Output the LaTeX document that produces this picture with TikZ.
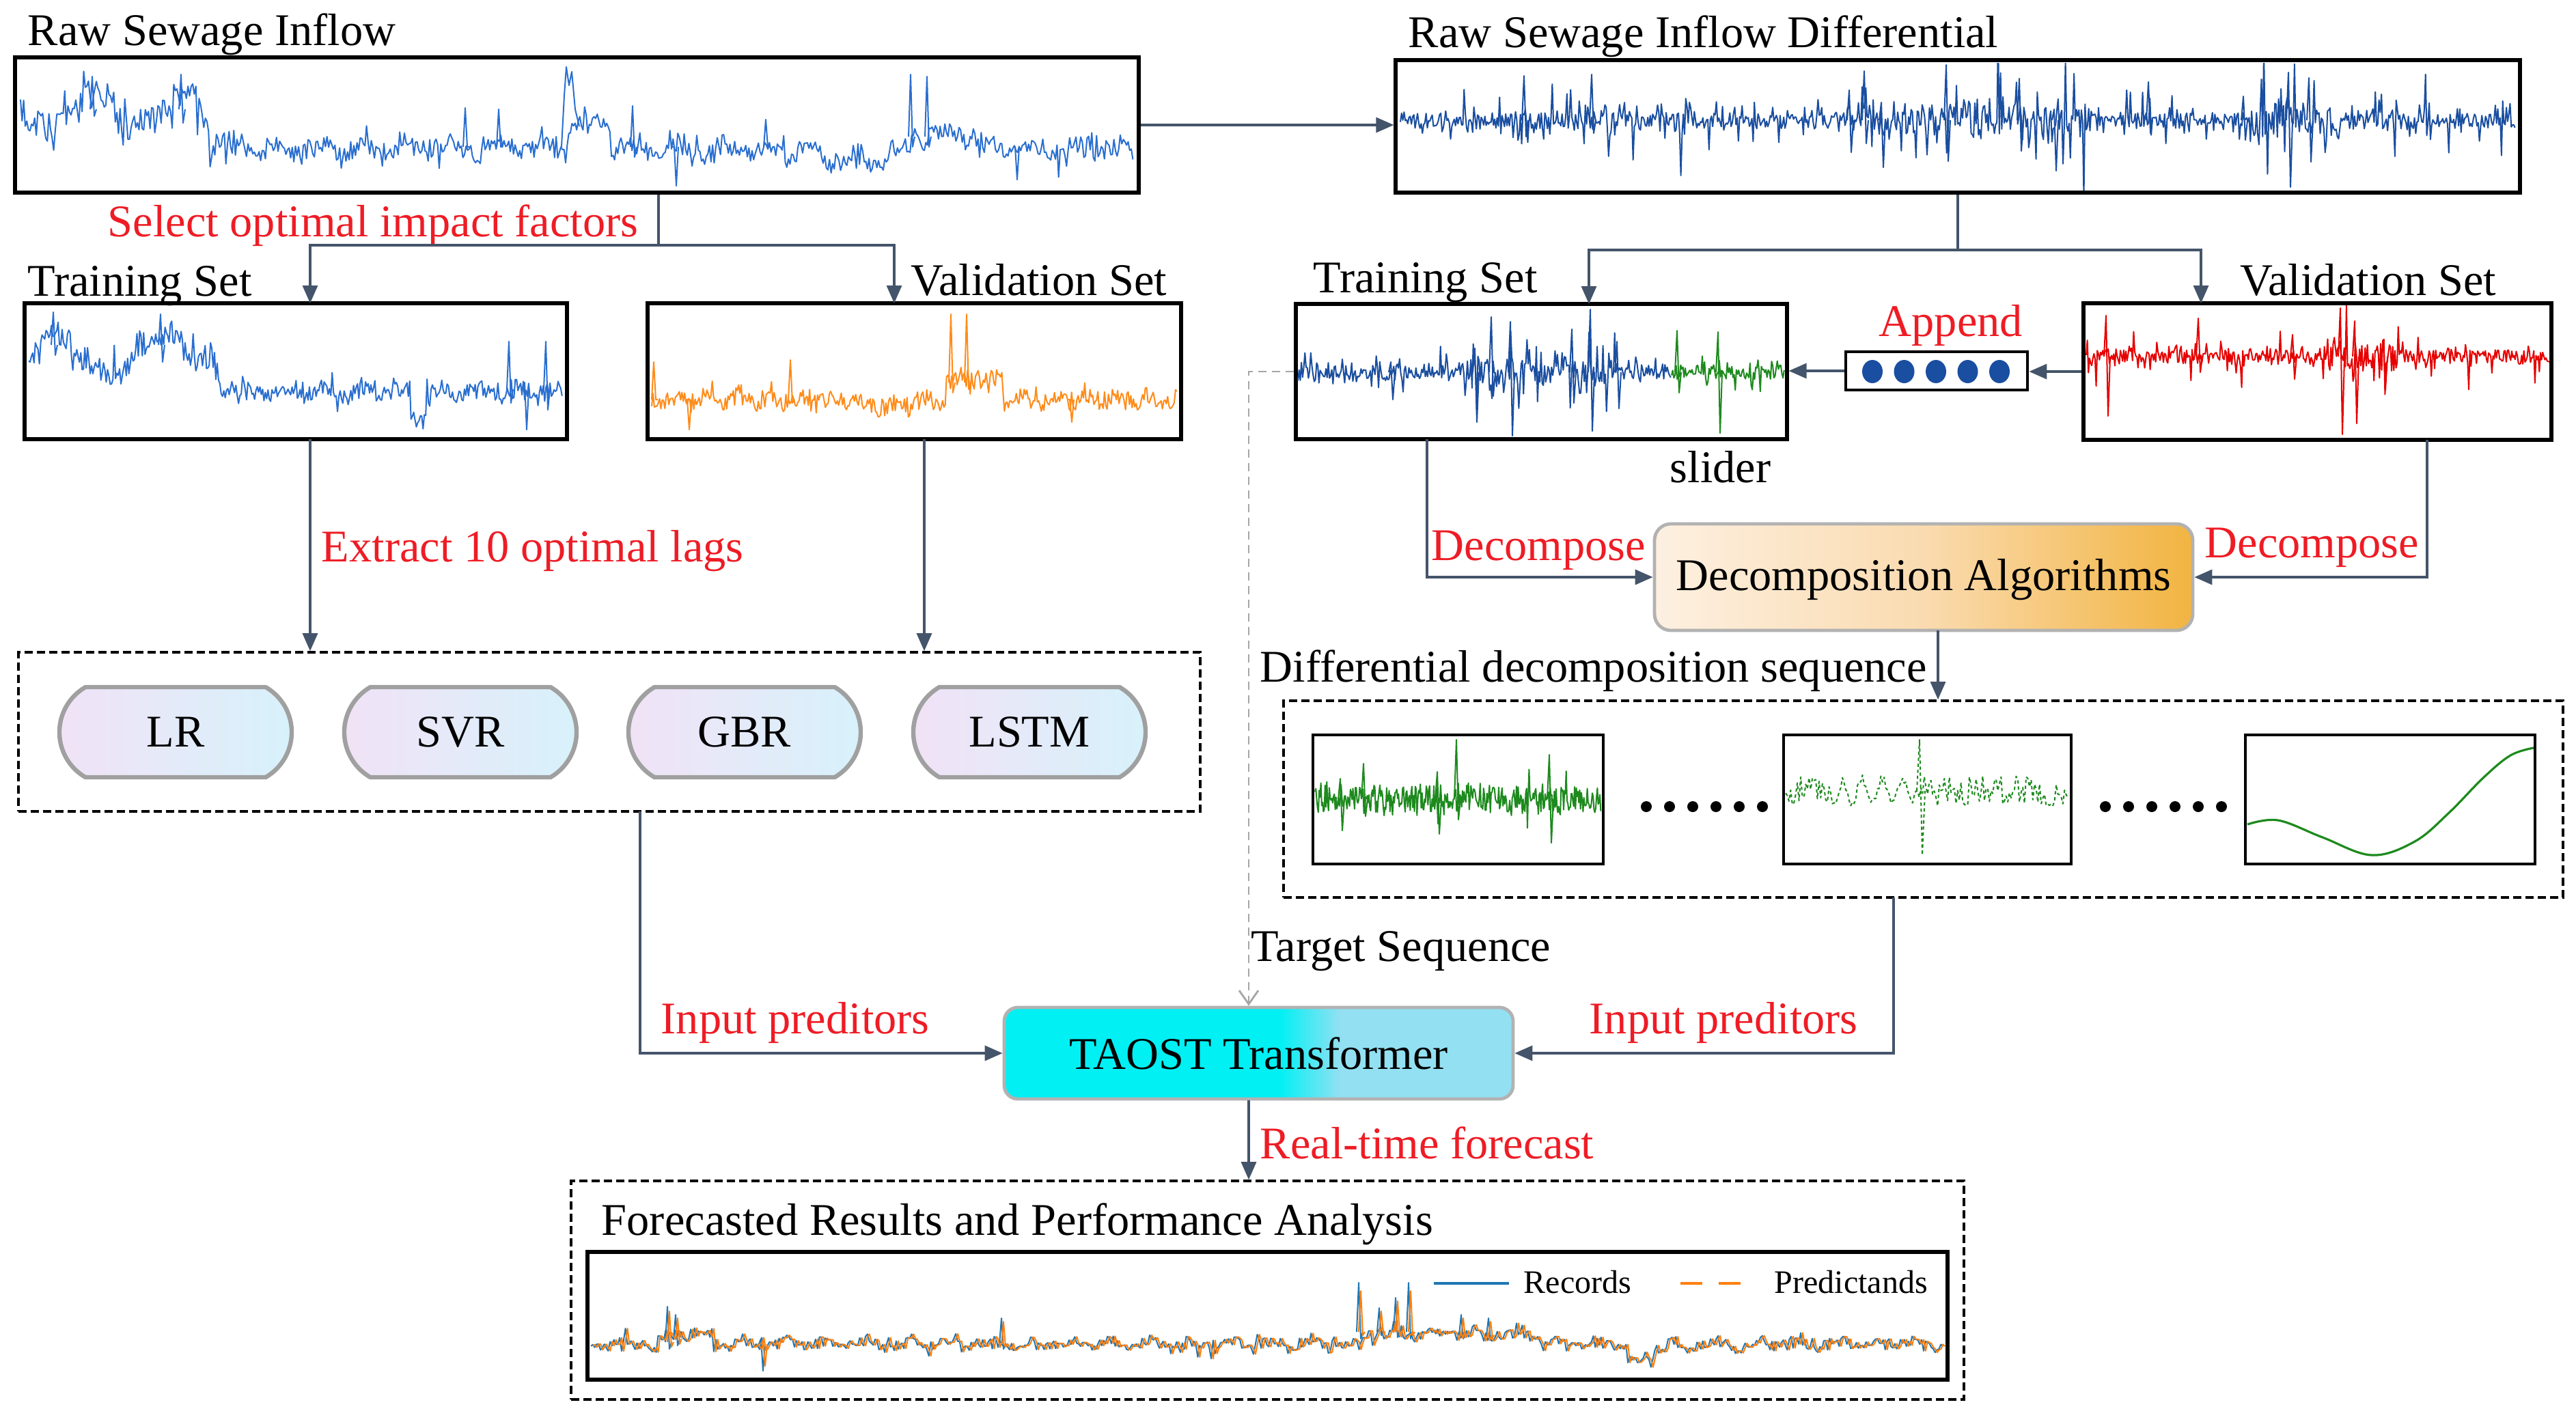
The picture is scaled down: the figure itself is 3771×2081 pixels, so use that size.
\documentclass[tikz,border=0pt]{standalone}
\usepackage{fontspec}
\setmainfont{Liberation Serif}
\usetikzlibrary{arrows.meta,shapes.misc,fit,calc}
\definecolor{connc}{HTML}{44546A}
\definecolor{redc}{HTML}{EE1C25}
\definecolor{infl}{HTML}{2A6FD0}
\definecolor{diffc}{HTML}{1B4FA0}
\definecolor{orc}{HTML}{FF8C1A}
\definecolor{sigred}{HTML}{E60000}
\definecolor{sgreen}{HTML}{1E8A1E}
\definecolor{fblue}{HTML}{1F77B4}
\definecolor{forange}{HTML}{FF7F0E}
\definecolor{pillL}{HTML}{F2E2F6}
\definecolor{pillR}{HTML}{D6F2FB}
\definecolor{pillb}{HTML}{A0A0A0}
\definecolor{taA}{HTML}{00F0F4}
\definecolor{taB}{HTML}{92E0F2}
\definecolor{daA}{HTML}{FDF0E1}
\definecolor{daB}{HTML}{FADBB0}
\definecolor{daC}{HTML}{F2B441}
\definecolor{dotb}{HTML}{1A4EA0}
\pgfdeclarehorizontalshading{taostsh}{100bp}{color(0bp)=(taA); color(25bp)=(taA); color(52bp)=(taA); color(58bp)=(taB); color(75bp)=(taB); color(100bp)=(taB)}
\pgfdeclarehorizontalshading{dalgsh}{100bp}{color(0bp)=(daA); color(25bp)=(daA); color(50bp)=(daB); color(75bp)=(daC); color(100bp)=(daC)}
\newcommand\fcexpr{1968 - 15*(\q>0.055)*(\q<0.09) - 15*(\q>0.57)*(\q<0.70) + 25*(\q>0.765)*(\q<0.785) + 5*sin(12000*\q) + 8*rand + 20*rand*rand*rand}
\newcommand\spk[5]{\draw[#1, line width=0.5pt, line join=round] (#2-4,#5) -- (#2-1,#3) -- (#2+2,#4) -- (#2+5,#5);}
\begin{document}
\begin{tikzpicture}[x=0.25pt, y=-0.25pt,
  font=\fontsize{16.6}{20}\selectfont,
  pbox/.style={draw=black, line width=1.3pt, inner sep=0pt, fill=white},
  grp/.style={draw=black, line width=0.9pt, dash pattern=on 3pt off 1.5pt, inner sep=0pt},
  conn/.style={draw=connc, line width=0.8pt},
  arr/.style={conn, -{Triangle[length=6.5pt,width=5.5pt]}},
  gdash/.style={draw=gray!70, line width=0.7pt, dash pattern=on 3pt off 2pt, -{Straight Barb[length=5pt,width=7pt]}},
  lbl/.style={anchor=base west, inner sep=0pt},
  rlbl/.style={lbl, text=redc},
  sig/.style={line width=0.5pt, line join=round},
  pill/.style={rounded rectangle, rounded rectangle arc length=120, draw=pillb, line width=1.6pt, left color=pillL, right color=pillR, minimum width=85pt, minimum height=33pt, inner sep=0pt},
]
\fill[white] (0,0) rectangle (3771,2081);
\useasboundingbox (0,0) rectangle (3771,2081);

% ---------- group boxes ----------
\node[grp, fit={(27,955) (1757,1188)}] (m) {};
\node[grp, fit={(1879,1026) (3752,1314)}] (D) {};
\node[grp, fit={(836,1729) (2875,2049)}] (F) {};

% ---------- plot boxes ----------
\node[pbox, fit={(22,84) (1667,282)}] (b1) {};
\node[pbox, fit={(2043,88) (3689,282)}] (b2) {};
\node[pbox, fit={(36,444) (830,643)}] (tL) {};
\node[pbox, fit={(948,444) (1729,643)}] (vL) {};
\node[pbox, fit={(1897,445) (2616,643)}] (tR) {};
\node[pbox, fit={(3050,444) (3735,644)}] (vR) {};
\node[pbox, line width=1.2pt, fit={(2702,515) (2968,571)}] (app) {};
\node[pbox, line width=1.1pt, fit={(1922,1076) (2347,1265)}] (d1) {};
\node[pbox, line width=1.1pt, fit={(2611,1076) (3032,1265)}] (d2) {};
\node[pbox, line width=1.1pt, fit={(3287,1076) (3711,1265)}] (d3) {};
\node[pbox, fit={(860,1833) (2851,2020)}] (P) {};

% ---------- process boxes ----------
\node[draw=gray!60, line width=1.2pt, rounded corners=6pt, shading=dalgsh, inner sep=0pt, fit={(2422,767) (3210,923)}] (DA) {};
\node (DAt) at ([yshift=-1pt]DA.center) {Decomposition Algorithms};
\node[draw=gray!60, line width=1.2pt, rounded corners=5pt, shading=taostsh, inner sep=0pt, fit={(1470,1475) (2215,1609)}] (T) {};
\node (Tt) at (T.center) {TAOST Transformer};
\node[pill] (pLR) at (257,1072) {LR};
\node[pill] (pSVR) at (674,1072) {SVR};
\node[pill] (pGBR) at (1090,1072) {GBR};
\node[pill] (pLSTM) at (1507,1072) {LSTM};

% ---------- signals ----------
% raw inflow
\begin{scope}
\clip (25,87) rectangle (1664,279);
\pgfmathsetseed{11}
\draw[infl, sig] plot[variable=\q, domain=0:1, samples=700] ({30+1630*\q}, {165 + 53*(\q>0.17) - (\q<0.17)*25*sin(4444*\q-200) - 35*(\q>0.49)*(\q<0.53) + 15*(\q>0.72)*(\q<0.78) - 20*(\q>0.80)*(\q<0.86) + 7*sin(9000*\q) + (14*rand + 50*rand*rand*rand*rand)*(1+0.6*(\q<0.2))});
\foreach \sx/\su/\sd/\sb in {136/112/170/160, 266/109/180/160, 682/158/215/215, 731/160/215/215, 927/155/230/215, 988/215/272/215, 1122/175/215/215, 1334/109/215/200, 1358/112/215/200, 1487/215/263/215}
  {\spk{infl}{\sx}{\su}{\sd}{\sb}}
\draw[infl, sig] (822,215) -- (826,140) -- (829,98) -- (833,125) -- (837,105) -- (842,160) -- (848,185);
\end{scope}
% differential
\begin{scope}
\clip (2047,92) rectangle (3685,278);
\pgfmathsetseed{23}
\draw[diffc, sig] plot[variable=\q, domain=0:1, samples=900] ({2050+1632*\q}, {176 + (11*rand + 100*rand*rand*rand*rand)*(1 + 1.0*(\q>0.40)*(\q<0.62) + 1.0*(\q>0.76)*(\q<0.84) + 0.4*(\q>0.1)*(\q<0.22))});
\foreach \sx/\su/\sd/\sb in {2232/111/200/176, 2331/109/195/176, 2708/132/223/176, 2730/104/210/176, 2755/150/245/176, 2850/95/236/176, 2957/115/221/176, 3008/160/250/176, 3146/120/195/176, 3285/141/205/176, 3351/106/274/176, 3381/114/237/176}
  {\spk{diffc}{\sx}{\su}{\sd}{\sb}}
\end{scope}
% training left
\begin{scope}
\clip (39,447) rectangle (827,640);
\pgfmathsetseed{37}
\draw[infl, sig] plot[variable=\q, domain=0:1, samples=400] ({42+782*\q}, {518 + 55*(\q>0.36) - (\q<0.36)*28*sin(1800*\q) + 35*(\q>0.715)*(\q<0.745) + 6*sin(5000*\q) + (13*rand + 45*rand*rand*rand*rand)*(1+0.5*(\q<0.36))});
\foreach \sx/\su/\sd/\sb in {79/457/520/505, 236/460/530/505, 746/500/590/570, 769/560/629/570, 800/500/600/570}
  {\spk{infl}{\sx}{\su}{\sd}{\sb}}
\end{scope}
% validation left
\begin{scope}
\clip (951,447) rectangle (1726,640);
\pgfmathsetseed{41}
\draw[orc, sig] plot[variable=\q, domain=0:1, samples=400] ({954+770*\q}, {585 - 30*(\q>0.56)*(\q<0.67) + 10*(\q>0.4)*(\q<0.5) + 5*sin(6000*\q) + 13*rand + 40*rand*rand*rand*rand});
\foreach \sx/\su/\sd/\sb in {958/530/585/585, 1007/585/629/585, 1158/527/590/585, 1393/460/575/560, 1416/460/570/560, 1567/585/618/585}
  {\spk{orc}{\sx}{\su}{\sd}{\sb}}
\end{scope}
% training right
\begin{scope}
\clip (1899,448) rectangle (2614,641);
\pgfmathsetseed{53}
\draw[diffc, sig] plot[variable=\q, domain=0:1, samples=320] ({1900+547*\q}, {545 + (10*rand + 80*rand*rand*rand*rand)*(1 + 1.0*(\q>0.45)*(\q<0.85))});
\foreach \sx/\su/\sd/\sb in {2037/530/585/545, 2160/510/618/545, 2184/464/580/545, 2212/471/638/545, 2302/482/590/545, 2329/453/631/545, 2368/500/598/545}
  {\spk{diffc}{\sx}{\su}{\sd}{\sb}}
\draw[sgreen, sig] plot[variable=\q, domain=0:1, samples=100] ({2447+165*\q}, {545 + 10*rand + 50*rand*rand*rand*rand});
\foreach \sx/\su/\sd/\sb in {2456/484/575/545, 2516/486/634/545}
  {\spk{sgreen}{\sx}{\su}{\sd}{\sb}}
\end{scope}
% validation right
\begin{scope}
\clip (3053,447) rectangle (3733,641);
\pgfmathsetseed{67}
\draw[sigred, sig] plot[variable=\q, domain=0:1, samples=420] ({3054+678*\q}, {522 + (10*rand + 70*rand*rand*rand*rand)*(1 + 1.0*(\q>0.5)*(\q<0.68))});
\foreach \sx/\su/\sd/\sb in {3084/462/609/522, 3219/466/545/522, 3427/451/636/522, 3448/470/620/522, 3490/500/571/522, 3357/490/555/522}
  {\spk{sigred}{\sx}{\su}{\sd}{\sb}}
\end{scope}
% decomposition 1
\begin{scope}
\clip (1924,1078) rectangle (2345,1263);
\pgfmathsetseed{71}
\draw[sgreen, sig] plot[variable=\q, domain=0:1, samples=340] ({1925+419*\q}, {1170 + 20*rand + 50*rand*rand*rand*rand});
\foreach \sx/\su/\sd/\sb in {1963/1140/1216/1170, 1997/1118/1195/1170, 2105/1130/1221/1170, 2133/1083/1200/1170, 2269/1105/1234/1170}
  {\spk{sgreen}{\sx}{\su}{\sd}{\sb}}
\end{scope}
% decomposition 2
\begin{scope}
\clip (2612,1078) rectangle (3030,1263);
\pgfmathsetseed{79}
\draw[sgreen, sig, dash pattern=on 1.2pt off 1pt] plot[variable=\q, domain=0:1, samples=170] ({2614+414*\q}, {1158 + 22*rand*(1-0.7*(\q>0.2)*(\q<0.45)) + 18*sin(5000*\q)*(\q>0.2)*(\q<0.45)});
\draw[sgreen, sig, dash pattern=on 1.2pt off 1pt] (2806,1158) -- (2810,1083) -- (2814,1252) -- (2818,1158);
\end{scope}
% decomposition 3
\draw[sgreen, line width=0.8pt] plot[smooth, tension=0.6] coordinates {(3290,1207) (3335,1201) (3400,1226) (3472,1252) (3535,1232) (3585,1190) (3635,1139) (3675,1106) (3709,1095)};
% forecast
\begin{scope}
\clip (862,1835) rectangle (2849,2018);
\pgfmathsetseed{97}
\draw[fblue, sig] plot[variable=\q, domain=0:1, samples=700] ({865+1981*\q}, {\fcexpr});
\foreach \sx/\su/\sd/\sb in {978/1913/1975/1965, 990/1925/1970/1960, 1115/1960/2007/1968, 1467/1930/1975/1968, 1990/1878/1960/1950, 2020/1915/1955/1950, 2044/1900/1958/1950, 2063/1878/1960/1950, 2140/1925/1960/1955, 2180/1930/1960/1955}
  {\spk{fblue}{\sx}{\su}{\sd}{\sb}}
\pgfmathsetseed{97}
\draw[forange, sig] plot[variable=\q, domain=0:1, samples=700] ({868+1981*\q}, {\fcexpr});
\foreach \sx/\su/\sd/\sb in {981/1920/1972/1965, 993/1930/1968/1960, 1118/1962/2000/1968, 1470/1935/1972/1968, 1993/1890/1955/1950, 2023/1920/1952/1950, 2047/1905/1955/1950, 2066/1890/1955/1950, 2143/1930/1958/1955, 2183/1935/1958/1955}
  {\spk{forange}{\sx}{\su}{\sd}{\sb}}
\end{scope}
% legend
\draw[fblue, line width=1pt] (2099,1879) -- (2209,1879);
\node[lbl, font=\fontsize{12}{14}\selectfont] (tRec) at (2230,1893) {Records};
\draw[forange, line width=1pt, dash pattern=on 8pt off 6pt] (2460,1879) -- (2570,1879);
\node[lbl, font=\fontsize{12}{14}\selectfont] (tPred) at (2597,1893) {Predictands};

% append dots
\foreach \k in {0,...,4} \fill[dotb] (2741+46.5*\k,544) ellipse [x radius=3.75pt, y radius=4.25pt];
% decomposition dots
\foreach \k in {0,...,5} {
  \fill[black] (2410+34*\k,1181) circle [radius=2pt];
  \fill[black] (3082+34*\k,1181) circle [radius=2pt];
}

% ---------- labels ----------
\node[lbl] (tRaw) at (40,66) {Raw Sewage Inflow};
\node[lbl] (tDiff) at (2061,69) {Raw Sewage Inflow Differential};
\node[rlbl] (tSel) at (157,346) {Select optimal impact factors};
\node[lbl] (tTL) at (40,433) {Training Set};
\node[lbl] (tVL) at (1333,432) {Validation Set};
\node[lbl] (tTR) at (1922,428) {Training Set};
\node[lbl] (tVR) at (3279,432) {Validation Set};
\node[rlbl] (tApp) at (2750,492) {Append};
\node[lbl] (tSl) at (2444,706) {slider};
\node[rlbl] (tExt) at (470,822) {Extract 10 optimal lags};
\node[rlbl] (tDecL) at (2095,820) {Decompose};
\node[rlbl] (tDecR) at (3227,816) {Decompose};
\node[lbl] (tDDS) at (1844,998) {Differential decomposition sequence};
\node[lbl] (tTarget) at (1831,1407) {Target Sequence};
\node[rlbl] (tInL) at (967,1513) {Input preditors};
\node[rlbl] (tInR) at (2326,1513) {Input preditors};
\node[rlbl] (tRT) at (1844,1696) {Real-time forecast};
\node[lbl] (tFR) at (880,1808) {Forecasted Results and Performance Analysis};

% ---------- connectors ----------
\draw[arr] (b1.east) -- (b1.east -| b2.west);
\coordinate (j1) at (964,359);
\coordinate (aTL) at (454,444);
\coordinate (aVL) at (1309,444);
\draw[conn] (b1.south -| j1) -- (j1);
\draw[arr] (j1) -| (aTL);
\draw[arr] (j1) -| (aVL);
\coordinate (xTL) at (454,643);
\coordinate (xVL) at (1353,643);
\draw[arr] (xTL) -- (xTL |- m.north);
\draw[arr] (xVL) -- (xVL |- m.north);
\coordinate (xM) at (937,1188);
\draw[arr] (xM) |- (T.west);

\coordinate (j2) at (2866,366);
\coordinate (aTR) at (2326,445);
\coordinate (aVR) at (3222,444);
\draw[conn] (b2.south -| j2) -- (j2);
\draw[arr] (j2) -| (aTR);
\draw[arr] (j2) -| (aVR);
\draw[arr] (vR.west) -- (vR.west -| app.east);
\draw[arr] (app.west) -- (app.west -| tR.east);
\coordinate (xTR) at (2089,643);
\coordinate (xVR) at (3553,644);
\draw[arr] (xTR) |- (DA.west);
\draw[arr] (xVR) |- (DA.east);
\coordinate (xDA) at (2837,923);
\draw[arr] (xDA) -- (xDA |- D.north);
\coordinate (xD) at (2772,1314);
\draw[arr] (xD) |- (T.east);
\coordinate (g1) at (1828,544);
\draw[gdash] (tR.west) -- (g1) -- (g1 |- T.north);
\draw[arr] (g1 |- T.south) -- (g1 |- F.north);
\end{tikzpicture}
\end{document}
